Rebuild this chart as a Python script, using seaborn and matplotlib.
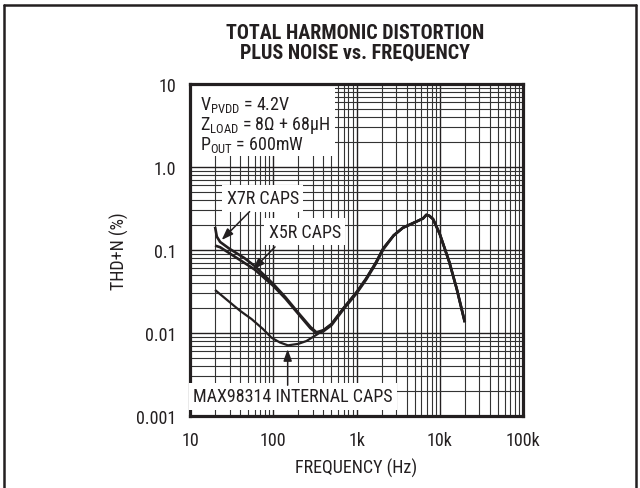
import numpy as np
import pandas as pd
import matplotlib
matplotlib.use("Agg")
import matplotlib.pyplot as plt
from matplotlib.ticker import FixedLocator, LogLocator, NullFormatter
from matplotlib.patches import Rectangle
from matplotlib.lines import Line2D
import seaborn as sns

# ---- data -------------------------------------------------------------
freq_x7r = [20, 21, 23, 30, 45, 60, 100, 140, 200, 280, 330, 400, 500, 700,
            1000, 1300, 1700, 2100, 2800, 3600, 4500, 5500, 6300, 6900, 7500,
            8300, 10000, 13000, 16000, 20000]
thd_x7r = [0.19, 0.145, 0.125, 0.103, 0.080, 0.064, 0.039, 0.027, 0.0175,
           0.0118, 0.0102, 0.0108, 0.0128, 0.020, 0.031, 0.045, 0.070, 0.105,
           0.150, 0.185, 0.205, 0.225, 0.240, 0.265, 0.258, 0.236, 0.156,
           0.072, 0.034, 0.0135]

freq_x5r = [20, 23, 30, 45, 60, 100, 140, 200, 280, 330, 400, 500, 700,
            1000, 1300, 1700, 2100, 2800, 3600, 4500, 5500, 6300, 6900, 7500,
            8300, 10000, 13000, 16000, 20000]
thd_x5r = [0.113, 0.108, 0.091, 0.070, 0.058, 0.037, 0.026, 0.0170,
           0.0114, 0.0100, 0.0105, 0.0124, 0.0194, 0.030, 0.0437, 0.068, 0.102,
           0.150, 0.185, 0.205, 0.225, 0.240, 0.265, 0.258, 0.236, 0.156,
           0.072, 0.034, 0.0135]

freq_int = [20, 30, 40, 55, 75, 95, 120, 150, 200, 250, 330, 400, 500, 700,
            1000, 1300, 1700, 2100, 2800, 3600, 4500, 5500, 6300, 6900, 7500,
            8300, 10000, 13000, 16000, 20000]
thd_int = [0.033, 0.0235, 0.0185, 0.0147, 0.0112, 0.0088, 0.0077, 0.0071,
           0.0074, 0.0080, 0.0095, 0.0108, 0.0128, 0.020, 0.031, 0.045, 0.070,
           0.105, 0.150, 0.185, 0.205, 0.225, 0.240, 0.265, 0.258, 0.236,
           0.156, 0.072, 0.034, 0.0135]

x_ticks = [10, 100, 1000, 10000, 100000]
x_labels = ["10", "100", "1k", "10k", "100k"]
y_ticks = [0.001, 0.01, 0.1, 1.0, 10]
y_labels = ["0.001", "0.01", "0.1", "1.0", "10"]

title_text = "TOTAL HARMONIC DISTORTION\nPLUS NOISE vs. FREQUENCY"
conditions = [r"V$_{\mathrm{PVDD}}$ = 4.2V",
              r"Z$_{\mathrm{LOAD}}$ = 8Ω + 68µH",
              r"P$_{\mathrm{OUT}}$ = 600mW"]

# ---- style ------------------------------------------------------------
sns.set_style("white")
FONT = ["Roboto Condensed", "DejaVu Sans"]
plt.rcParams["font.family"] = FONT
plt.rcParams["mathtext.fontset"] = "custom"
plt.rcParams["mathtext.rm"] = "Roboto Condensed"
plt.rcParams["mathtext.it"] = "Roboto Condensed"
plt.rcParams["mathtext.bf"] = "Roboto Condensed:bold"

FS = 13
INK = "#231f20"

fig = plt.figure(figsize=(6.4, 4.89), dpi=100)
ax = fig.add_axes([190 / 640, 1 - 417 / 489, 333 / 640, 332 / 489])

df = pd.concat([
    pd.DataFrame({"freq": freq_x7r, "thd": thd_x7r, "series": "X7R"}),
    pd.DataFrame({"freq": freq_x5r, "thd": thd_x5r, "series": "X5R"}),
    pd.DataFrame({"freq": freq_int, "thd": thd_int, "series": "INT"}),
])

widths = {"X7R": 1.9, "X5R": 1.9, "INT": 1.6}
for name in ["INT", "X5R", "X7R"]:
    sub = df[df["series"] == name]
    sns.lineplot(data=sub, x="freq", y="thd", ax=ax, color=INK,
                 lw=widths[name], estimator=None, sort=False, zorder=3,
                 solid_joinstyle="round", solid_capstyle="butt")

ax.set_xscale("log")
ax.set_yscale("log")
ax.set_xlim(10, 100000)
ax.set_ylim(0.001, 10)

ax.xaxis.set_major_locator(FixedLocator(x_ticks))
ax.set_xticklabels(x_labels)
ax.yaxis.set_major_locator(FixedLocator(y_ticks))
ax.set_yticklabels(y_labels)
ax.xaxis.set_minor_locator(LogLocator(base=10, subs=np.arange(2, 10), numticks=20))
ax.yaxis.set_minor_locator(LogLocator(base=10, subs=np.arange(2, 10), numticks=20))
ax.xaxis.set_minor_formatter(NullFormatter())
ax.yaxis.set_minor_formatter(NullFormatter())

ax.grid(True, which="major", color=INK, lw=1.0, zorder=0)
ax.grid(True, which="minor", color="#333333", lw=0.8, zorder=0)
ax.set_axisbelow(True)

ax.tick_params(which="both", length=0, labelsize=FS, colors=INK)
ax.tick_params(axis="x", pad=11)
ax.tick_params(axis="y", pad=10)
for s in ax.spines.values():
    s.set_linewidth(2.3)
    s.set_color(INK)

ax.set_xlabel("FREQUENCY (Hz)", fontsize=FS, color=INK, labelpad=6)
ax.set_ylabel("THD+N (%)", fontsize=FS, color=INK, labelpad=5)

fig.text(355 / 640, 1 - 43 / 489, title_text, ha="center", va="center",
         fontsize=14.5, fontweight="bold", color=INK, linespacing=1.05)

# condition block with white backing
ax.add_patch(Rectangle((0.006, 0.782), 0.43, 0.212, transform=ax.transAxes,
                       facecolor="white", edgecolor="none", zorder=2))
for i, line in enumerate(conditions):
    ax.text(0.03, 0.94 - i * 0.061, line, transform=ax.transAxes,
            ha="left", va="center", fontsize=FS, color=INK, zorder=4)

# curve callouts
box = dict(boxstyle="square,pad=0.25", fc="white", ec="none")
arrow = dict(arrowstyle="-|>,head_length=0.7,head_width=0.25", color=INK,
             lw=1.1, shrinkA=0, shrinkB=0)

ax.text(75, 0.42, "X7R CAPS", ha="center", va="center", fontsize=FS,
        color=INK, bbox=box, zorder=4)
ax.annotate("", xy=(24, 0.132), xytext=(52, 0.29), arrowprops=arrow, zorder=5)

ax.text(240, 0.165, "X5R CAPS", ha="center", va="center", fontsize=FS,
        color=INK, bbox=box, zorder=4)
ax.annotate("", xy=(57, 0.058), xytext=(105, 0.109), arrowprops=arrow, zorder=5)

ax.text(172, 0.00172, "MAX98314 INTERNAL CAPS", ha="center", va="center",
        fontsize=FS, color=INK, bbox=box, zorder=4)
ax.annotate("", xy=(149, 0.0064), xytext=(149, 0.00235), arrowprops=arrow,
            zorder=5)

# outer frame
for (x0, y0, x1, y1) in [(4, 6, 636, 6), (4, 6, 4, 489), (636, 6, 636, 489)]:
    fig.add_artist(Line2D([x0 / 640, x1 / 640], [1 - y0 / 489, 1 - y1 / 489],
                          transform=fig.transFigure, color=INK, lw=1.8))

fig.savefig("out.png", dpi=100)
